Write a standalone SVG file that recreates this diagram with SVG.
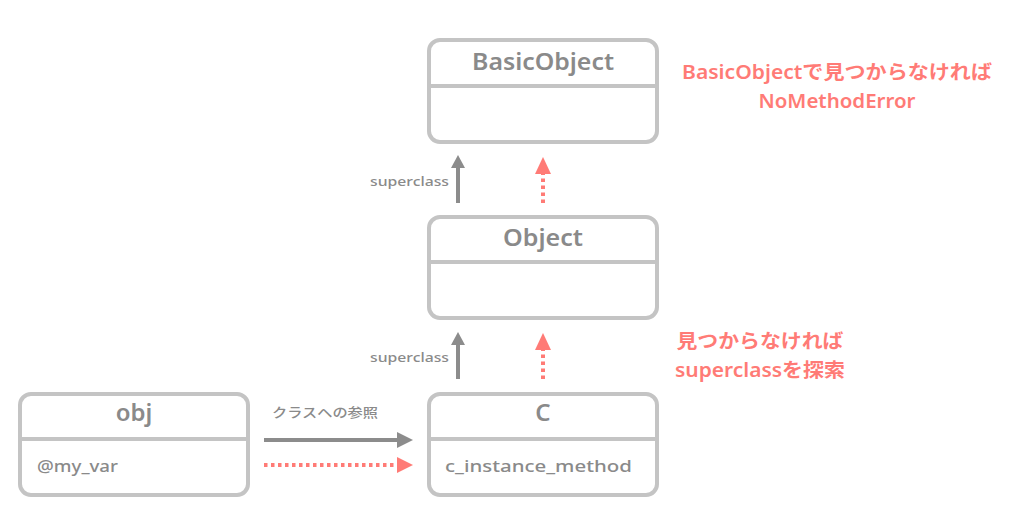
<svg xmlns="http://www.w3.org/2000/svg" width="1024" height="518" viewBox="0 0 1024 518">
<style>
.box{fill:#fff;stroke:#c4c4c4;stroke-width:4}
.div{stroke:#c4c4c4;stroke-width:4}
.title{font-family:"Noto Sans","Noto Sans CJK JP",sans-serif;font-weight:600;font-size:24px;fill:#8a8a8a;text-anchor:middle}
.body{font-family:"Noto Sans","Noto Sans CJK JP",sans-serif;font-weight:500;font-size:17px;fill:#8a8a8a}
.lbl{font-family:"Noto Sans","Noto Sans CJK JP",sans-serif;font-weight:500;font-size:13px;fill:#8a8a8a}
.note{font-family:"Noto Sans","Noto Sans CJK JP",sans-serif;font-weight:600;font-size:19px;fill:#ff7b76;text-anchor:middle}
.gl{stroke:#8c8c8c;stroke-width:4;fill:none}
.rl{stroke:#ff7b76;stroke-width:4;fill:none;stroke-dasharray:3.5 3.5}
.gh{fill:#8c8c8c}
.rh{fill:#ff7b76}
</style>
<rect width="1024" height="518" fill="#fff"/>
<g id="BasicObject">
<rect class="box" x="429" y="40" width="228" height="102" rx="11"/>
<line class="div" x1="429" y1="86" x2="657" y2="86"/>
<text class="title" x="543" y="70" textLength="142" lengthAdjust="spacingAndGlyphs">BasicObject</text>
</g>
<g id="Object">
<rect class="box" x="429" y="217" width="228" height="101" rx="11"/>
<line class="div" x1="429" y1="262" x2="657" y2="262"/>
<text class="title" x="543" y="246" textLength="80" lengthAdjust="spacingAndGlyphs">Object</text>
</g>
<g id="C">
<rect class="box" x="429" y="394" width="228" height="101" rx="11"/>
<line class="div" x1="429" y1="439" x2="657" y2="439"/>
<text class="title" x="543" y="421">C</text>
<text class="body" x="445" y="472" textLength="187" lengthAdjust="spacingAndGlyphs">c_instance_method</text>
</g>
<g id="obj">
<rect class="box" x="20" y="394" width="228" height="101" rx="11"/>
<line class="div" x1="20" y1="439" x2="248" y2="439"/>
<text class="title" x="134" y="421">obj</text>
<text class="body" x="37" y="472" textLength="81" lengthAdjust="spacingAndGlyphs">@my_var</text>
</g>
<g id="connectors">
<line class="gl" x1="458" y1="203" x2="458" y2="166"/>
<polygon class="gh" points="458,155 451,168 465,168"/>
<text class="lbl" x="370" y="186" textLength="79" lengthAdjust="spacingAndGlyphs">superclass</text>
<line class="rl" x1="543" y1="203" x2="543" y2="173"/>
<polygon class="rh" points="543,157 535,174 551,174"/>
<line class="gl" x1="458" y1="379" x2="458" y2="343"/>
<polygon class="gh" points="458,332 451,345 465,345"/>
<text class="lbl" x="370" y="362" textLength="79" lengthAdjust="spacingAndGlyphs">superclass</text>
<line class="rl" x1="543" y1="379" x2="543" y2="349"/>
<polygon class="rh" points="543,333 535,350 551,350"/>
<line class="gl" x1="264" y1="440" x2="399" y2="440"/>
<polygon class="gh" points="413,440 397,432 397,448"/>
<text class="lbl" x="272" y="417" textLength="106" lengthAdjust="spacingAndGlyphs">クラスへの参照</text>
<line class="rl" x1="264" y1="465" x2="397" y2="465"/>
<polygon class="rh" points="413,465 397,457 397,473"/>
</g>
<g id="notes">
<text class="note" x="837" y="79" textLength="310" lengthAdjust="spacingAndGlyphs">BasicObjectで見つからなければ</text>
<text class="note" x="837" y="108" textLength="157" lengthAdjust="spacingAndGlyphs">NoMethodError</text>
<text class="note" x="760" y="348" textLength="167" lengthAdjust="spacingAndGlyphs">見つからなければ</text>
<text class="note" x="760" y="377" textLength="170" lengthAdjust="spacingAndGlyphs">superclassを探索</text>
</g>
</svg>
